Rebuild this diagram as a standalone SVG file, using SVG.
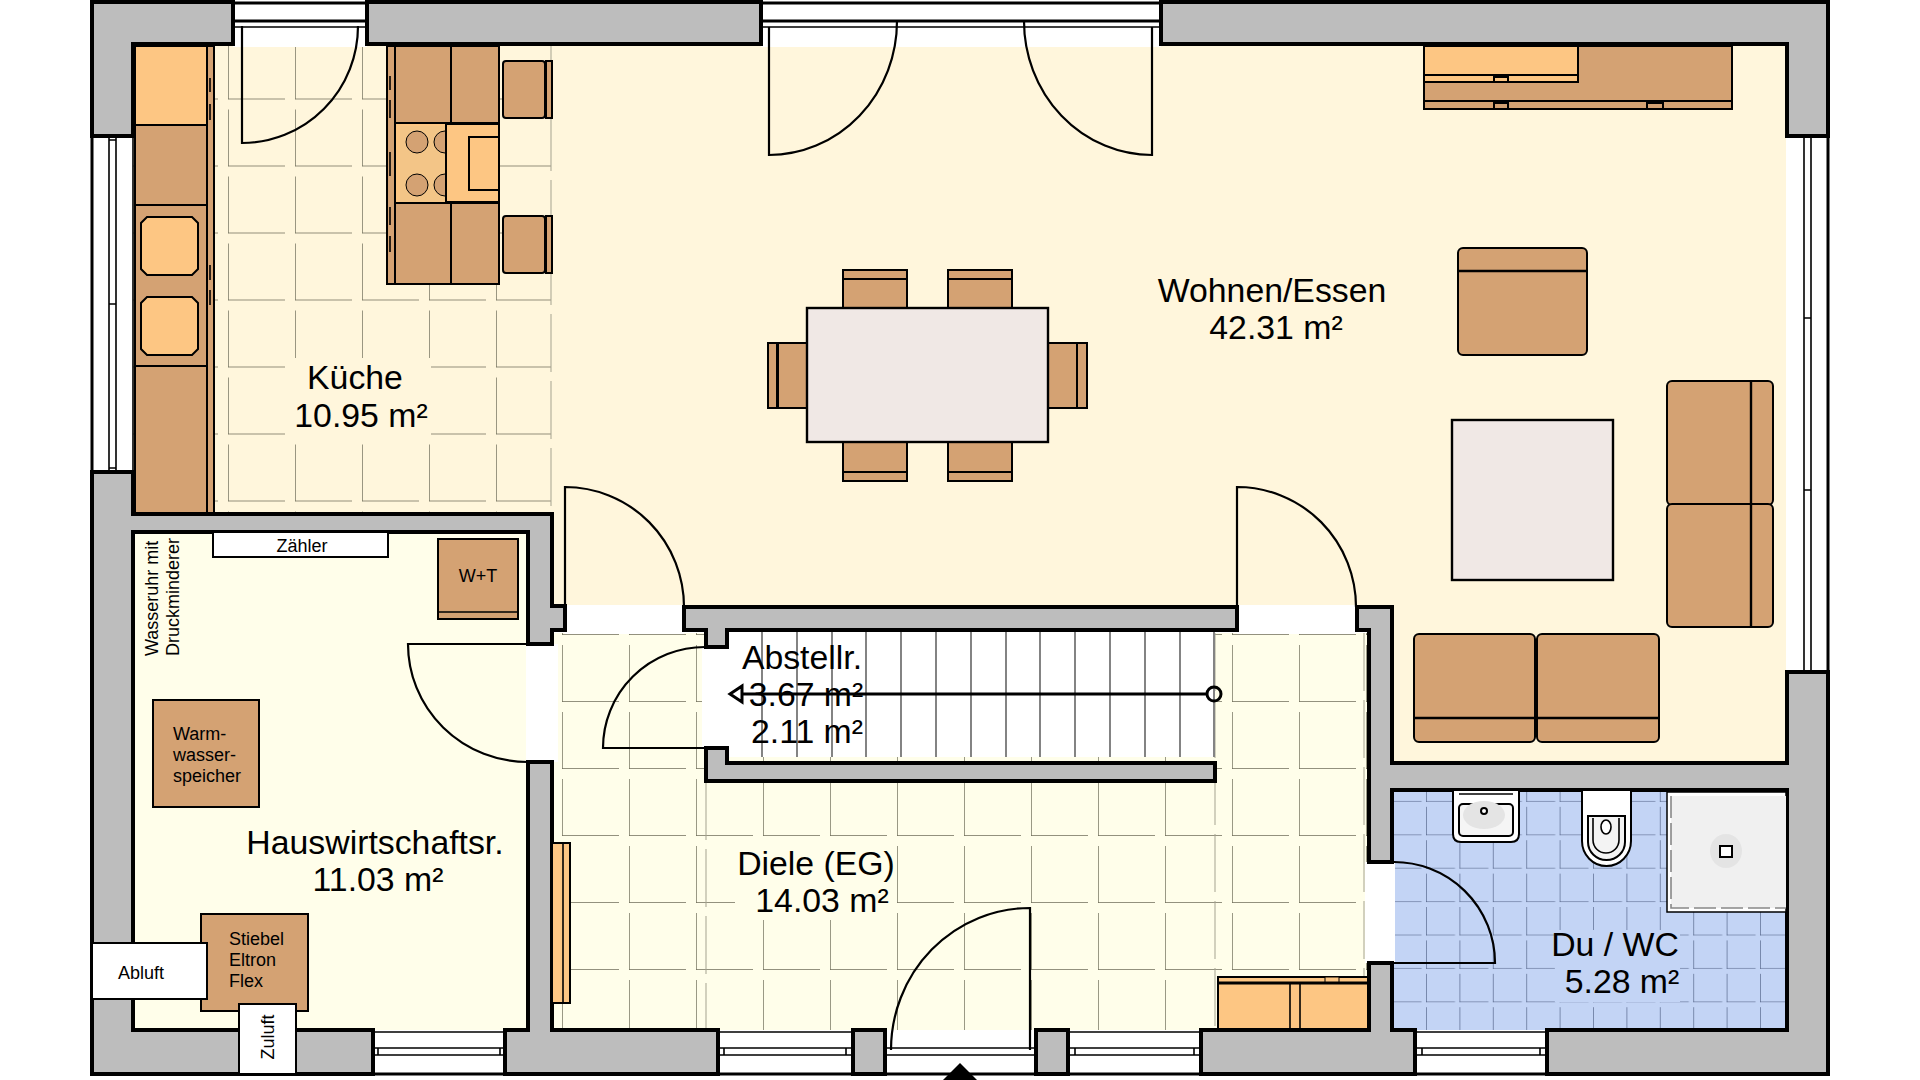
<svg xmlns="http://www.w3.org/2000/svg" width="1920" height="1080" viewBox="0 0 1920 1080">
<style>
.wall{fill:#bdbdbd;stroke:#000;stroke-width:4;stroke-linejoin:miter}
.win{fill:#fff;stroke:#000;stroke-width:1.6}
.ln{fill:none;stroke:#000;stroke-width:1.6}
.ln3{fill:none;stroke:#000;stroke-width:3}
.door{fill:none;stroke:#000;stroke-width:2.2}
.br{fill:#d4a273;stroke:#000;stroke-width:2}
.or{fill:#fdc683;stroke:#000;stroke-width:2}
.tb{fill:#f0e8e5;stroke:#000;stroke-width:2.4}
.seam{fill:none;stroke:#a5a390;stroke-width:1;stroke-dasharray:58 9}
.wh{fill:#fff;stroke:#000;stroke-width:2}
.big{font-family:"Liberation Sans",Arial,sans-serif;font-size:33.8px;fill:#000;text-anchor:middle}
.sm{font-family:"Liberation Sans",Arial,sans-serif;font-size:18px;fill:#000}
.mid{text-anchor:middle}
</style>
<defs>
<pattern id="tileK" width="67" height="67" patternUnits="userSpaceOnUse" patternTransform="translate(228,32.5)"><path d="M0 10V67H57" fill="none" stroke="#6f6d5a" stroke-width="1.4"/></pattern>
<pattern id="tileH" width="67" height="67" patternUnits="userSpaceOnUse" patternTransform="translate(562,635)"><path d="M0 10V67H57" fill="none" stroke="#6f6d5a" stroke-width="1.4"/></pattern>
<pattern id="tileB" width="33.4" height="33.4" patternUnits="userSpaceOnUse" patternTransform="translate(1426,768.5)"><path d="M0 5V33.4H29" fill="none" stroke="#47587c" stroke-width="1.2"/></pattern>
</defs>
<rect width="1920" height="1080" fill="#fff"/>
<g id="floors">
<path d="M551 46H1786V763H1392V607H551Z" fill="#fff6dc"/>
<rect x="133" y="46" width="418" height="468" fill="#fff6dc"/>
<rect x="133" y="46" width="418" height="468" fill="url(#tileK)"/>
<rect x="133" y="532" width="395" height="498" fill="#fffeea"/>
<rect x="552" y="633" width="817" height="397" fill="#fffeea"/>
<rect x="552" y="633" width="817" height="397" fill="url(#tileH)"/>
<rect x="1392" y="790" width="395" height="240" fill="#c3d4f5"/>
<rect x="1392" y="790" width="395" height="240" fill="url(#tileB)"/>
<path class="seam" d="M551 46V514M706 782V1030M1215 633V1030M1364 633V1030"/>
</g>
<g id="openings">
<rect x="233" y="2" width="134" height="45" fill="#fff"/>
<rect x="761" y="2" width="400" height="45" fill="#fff"/>
<rect x="92" y="136" width="41" height="336" fill="#fff"/>
<rect x="1786" y="136" width="42" height="536" fill="#fff"/>
<rect x="565" y="605" width="119" height="29" fill="#fff"/>
<rect x="1237" y="605" width="119" height="29" fill="#fff"/>
<rect x="526" y="644" width="32" height="118" fill="#fff"/>
<rect x="1365" y="862" width="30" height="101" fill="#fff"/>
<rect x="702" y="647" width="26" height="101" fill="#fff"/>
<rect x="728" y="630" width="487" height="127" fill="#fff"/>
<rect x="373" y="1030" width="132" height="44" fill="#fff"/>
<rect x="718" y="1030" width="135" height="44" fill="#fff"/>
<rect x="885" y="1030" width="151" height="44" fill="#fff"/>
<rect x="1068" y="1030" width="133" height="44" fill="#fff"/>
<rect x="1415" y="1030" width="132" height="44" fill="#fff"/>
</g>
<g id="stairs">
<path d="M762 630V757M797 630V757M832 630V757M866 630V757M901 630V757M936 630V757M971 630V757M1006 630V757M1040 630V757M1075 630V757M1110 630V757M1145 630V757M1180 630V757M1214 630V757" fill="none" stroke="#333" stroke-width="1.2"/>
<path class="ln3" d="M742 694H1207M742 686L730 694L742 702Z"/>
<circle class="ln3" cx="1214" cy="694" r="7"/>
</g>
<g id="windows">
<path class="ln3" d="M233 3H367M761 3H1161M233 21H367M761 21H1161M92 136V472M1828 136V672M373 1074H505M718 1074H853M885 1074H1036M1068 1074H1201M1415 1074H1547"/>
<path class="ln" d="M133 136V472M109 136V472M116 136V472M109 304H116M233 27H367M761 27H1161M1804 136V672M1811 136V672M1804 318H1811M1804 490H1811M109 140H116M109 468H116"/>
<path class="ln" d="M373 1032H505M373 1048H505M373 1055H505M378 1048V1055M500 1048V1055M718 1032H853M718 1048H853M718 1055H853M724 1048V1055M846 1048V1055M885 1048H1036M885 1055H1036M1068 1032H1201M1068 1048H1201M1068 1055H1201M1075 1048V1055M1194 1048V1055M1415 1032H1547M1415 1048H1547M1415 1055H1547M1422 1048V1055M1540 1048V1055"/>
</g>
<g id="walls">
<polygon class="wall" points="92,2 233,2 233,44 133,44 133,136 92,136"/>
<polygon class="wall" points="367,2 761,2 761,44 367,44"/>
<polygon class="wall" points="1161,2 1828,2 1828,136 1787,136 1787,44 1161,44"/>
<polygon class="wall" points="92,472 133,472 133,514 552,514 552,606 565,606 565,630 552,630 552,644 528,644 528,532 133,532 133,1030 373,1030 373,1074 92,1074"/>
<polygon class="wall" points="528,762 552,762 552,1030 718,1030 718,1074 505,1074 505,1030 528,1030"/>
<rect class="wall" x="853" y="1030" width="32" height="44"/>
<rect class="wall" x="1036" y="1030" width="32" height="44"/>
<polygon class="wall" points="1201,1030 1369,1030 1369,963 1392,963 1392,1030 1415,1030 1415,1074 1201,1074"/>
<polygon class="wall" points="1547,1030 1787,1030 1787,790 1392,790 1392,862 1369,862 1369,630 1357,630 1357,607 1392,607 1392,763 1787,763 1787,672 1828,672 1828,1074 1547,1074"/>
<polygon class="wall" points="684,607 1237,607 1237,630 727,630 727,647 706,647 706,630 684,630"/>
<polygon class="wall" points="706,748 727,748 727,763 1215,763 1215,781 706,781"/>
<polygon fill="#000" points="960,1063 977,1080 943,1080"/>
</g>
<g id="doors">
<path class="door" d="M242 26V143A116 117 0 0 0 358 26"/>
<path class="door" d="M897 21A128 134 0 0 1 769 155V27"/>
<path class="door" d="M1024 21A128 134 0 0 0 1152 155V27"/>
<path class="door" d="M565 607V487A119 120 0 0 1 684 607"/>
<path class="door" d="M1237 607V487A119 120 0 0 1 1356 607"/>
<path class="door" d="M528 644H408A120 118 0 0 0 528 762"/>
<path class="door" d="M705 647A102 101 0 0 0 603 748H705"/>
<path class="door" d="M891 1050A139 142 0 0 1 1030 908V1050"/>
<path class="door" d="M1392 862A101 101 0 0 1 1495 963H1392"/>
</g>
<g id="kitchen">
<rect class="or" x="135" y="46" width="72" height="79"/>
<rect class="br" x="135" y="125" width="72" height="80"/>
<rect class="br" x="135" y="205" width="72" height="161"/>
<rect class="br" x="135" y="366" width="72" height="147"/>
<rect class="br" x="207" y="46" width="7" height="467"/>
<path class="or" d="M147 217H192L198 223V269L192 275H147L141 269V223Z"/>
<path class="or" d="M147 297H192L198 303V349L192 355H147L141 349V303Z"/>
<path class="ln" d="M210 78V92M210 104V120M210 265V280M210 290V305"/>
<rect class="br" x="387" y="46" width="112" height="238"/>
<rect class="br" x="395" y="46" width="56" height="77"/>
<rect class="br" x="451" y="46" width="48" height="77"/>
<rect class="br" x="395" y="203" width="56" height="81"/>
<rect class="br" x="451" y="203" width="48" height="81"/>
<rect fill="#d4a273" x="388" y="124" width="7" height="78"/>
<rect class="or" x="395" y="123" width="104" height="80"/>
<rect fill="#f3c587" x="400" y="126" width="46" height="76"/>
<circle class="br" style="stroke-width:1" cx="417" cy="142" r="11"/>
<circle class="br" style="stroke-width:1" cx="417" cy="185" r="11"/>
<circle class="br" style="stroke-width:1" cx="445" cy="142" r="11"/>
<circle class="br" style="stroke-width:1" cx="445" cy="185" r="11"/>
<rect class="or" x="446" y="124" width="53" height="78"/>
<path class="ln" d="M446 124V202"/>
<rect class="or" x="469" y="137" width="30" height="53"/>
<path class="ln" d="M390 76V90M390 100V118M390 152V176M390 207V225M390 236V252"/>
<rect class="br" x="503" y="61" width="42" height="57" rx="3"/>
<rect class="br" x="546" y="61" width="6" height="57"/>
<rect class="br" x="503" y="216" width="42" height="57" rx="3"/>
<rect class="br" x="546" y="216" width="6" height="57"/>
</g>
<g id="utility">
<rect class="wh" x="213" y="532" width="175" height="25"/>
<rect class="br" x="438" y="539" width="80" height="80"/>
<path class="ln" d="M438 612H518"/>
<rect class="br" x="153" y="700" width="106" height="107"/>
<rect class="br" x="201" y="914" width="107" height="97"/>
<rect class="wh" x="92" y="943" width="115" height="56"/>
<rect class="wh" x="239" y="1004" width="57" height="70"/>
<rect class="or" x="552" y="843" width="18" height="160"/>
<path class="ln" d="M563 843V1003"/>
</g>
<g id="closet">
<rect class="or" x="1218" y="977" width="150" height="52"/>
<path class="ln3" d="M1218 983H1368"/>
<path class="ln" d="M1290 983V1029M1300 983V1029"/>
<rect class="or" style="stroke-width:1" x="1325" y="977" width="14" height="5"/>
</g>
<g id="dining">
<rect class="br" x="843" y="270" width="64" height="9"/>
<rect class="br" x="843" y="279" width="64" height="30"/>
<rect class="br" x="948" y="270" width="64" height="9"/>
<rect class="br" x="948" y="279" width="64" height="30"/>
<rect class="br" x="843" y="442" width="64" height="30"/>
<rect class="br" x="843" y="472" width="64" height="9"/>
<rect class="br" x="948" y="442" width="64" height="30"/>
<rect class="br" x="948" y="472" width="64" height="9"/>
<rect class="br" x="768" y="343" width="9" height="65"/>
<rect class="br" x="778" y="343" width="30" height="65"/>
<rect class="br" x="1048" y="343" width="29" height="65"/>
<rect class="br" x="1077" y="343" width="10" height="65"/>
<rect class="tb" x="807" y="308" width="241" height="134"/>
</g>
<g id="sideboard">
<rect class="br" x="1424" y="46" width="308" height="55"/>
<rect class="br" x="1424" y="101" width="308" height="8"/>
<rect class="or" x="1424" y="46" width="154" height="29"/>
<rect class="or" x="1424" y="75" width="154" height="7"/>
<rect class="or" x="1494" y="77" width="14" height="5"/>
<rect class="br" x="1494" y="103" width="14" height="6"/>
<rect class="br" x="1647" y="103" width="16" height="6"/>
</g>
<g id="lounge">
<rect class="br" x="1458" y="248" width="129" height="107" rx="5"/>
<path class="ln" style="stroke-width:2.4" d="M1458 271H1587"/>
<rect class="tb" x="1452" y="420" width="161" height="160"/>
<rect class="br" x="1667" y="381" width="106" height="124" rx="5"/>
<rect class="br" x="1667" y="504" width="106" height="123" rx="5"/>
<path class="ln" style="stroke-width:2.4" d="M1751 381V627"/>
<rect class="br" x="1414" y="634" width="121" height="108" rx="5"/>
<rect class="br" x="1537" y="634" width="122" height="108" rx="5"/>
<path class="ln" style="stroke-width:2.4" d="M1414 718H1659"/>
</g>
<g id="bath">
<rect x="1667" y="792" width="119" height="120" fill="#fff" stroke="#000" stroke-width="1.5"/>
<rect x="1671" y="796" width="115" height="112" fill="#f0f0f0"/>
<path class="ln" style="stroke:#888;stroke-dasharray:22 5" d="M1671 796V908H1786"/>
<ellipse cx="1726" cy="851" rx="16" ry="17" fill="#e4e4e4"/>
<rect class="wh" x="1720" y="846" width="12" height="11"/>
<path class="wh" d="M1453 791V834Q1453 842 1461 842H1511Q1519 842 1519 834V791"/>
<rect x="1459" y="804" width="54" height="32" rx="4" fill="#f5f5f5" stroke="#000" stroke-width="2"/>
<path class="ln" d="M1459 794H1513"/>
<ellipse cx="1484" cy="815" rx="21" ry="14" fill="#e4e4e4"/>
<circle cx="1484" cy="811" r="3" fill="#fff" stroke="#000" stroke-width="2"/>
<path class="wh" d="M1582 791V841A24.500 25 0 0 0 1631 841V791"/>
<path d="M1588 816H1625V842A18.500 18 0 0 1 1588 842Z" fill="#f3f3f3" stroke="#000" stroke-width="2"/>
<path class="ln" d="M1593 818V840A13 13 0 0 0 1619 840V818"/>
<ellipse cx="1606" cy="827" rx="5" ry="7" fill="#fff" stroke="#000" stroke-width="1.6"/>
</g>
<g id="labels">
<rect x="295" y="358" width="136" height="78" fill="#fff6dc"/>
<rect x="735" y="845" width="158" height="75" fill="#fffeea"/>
<rect x="1555" y="930" width="125" height="72" fill="#c3d4f5"/>
<text class="big" x="355" y="389">Küche</text>
<text class="big" x="361" y="427">10.95 m²</text>
<text class="big" x="1272" y="302">Wohnen/Essen</text>
<text class="big" x="1276" y="339">42.31 m²</text>
<text class="big" x="375" y="854">Hauswirtschaftsr.</text>
<text class="big" x="378" y="891">11.03 m²</text>
<text class="big" x="802" y="669">Abstellr.</text>
<text class="big" x="806" y="706">3.67 m²</text>
<text class="big" x="807" y="743">2.11 m²</text>
<text class="big" x="816" y="875">Diele (EG)</text>
<text class="big" x="822" y="912">14.03 m²</text>
<text class="big" x="1615" y="956">Du / WC</text>
<text class="big" x="1622" y="993">5.28 m²</text>
<text class="sm mid" x="302" y="552">Zähler</text>
<text class="sm mid" x="478" y="582">W+T</text>
<text class="sm" x="173" y="740">Warm-</text>
<text class="sm" x="173" y="761">wasser-</text>
<text class="sm" x="173" y="782">speicher</text>
<text class="sm" x="229" y="945">Stiebel</text>
<text class="sm" x="229" y="966">Eltron</text>
<text class="sm" x="229" y="987">Flex</text>
<text class="sm mid" x="141" y="979">Abluft</text>
<text class="sm mid" transform="translate(274,1037) rotate(-90)">Zuluft</text>
<text class="sm" transform="translate(158,656) rotate(-90)">Wasseruhr mit</text>
<text class="sm" transform="translate(179,656) rotate(-90)">Druckminderer</text>
</g>
</svg>
